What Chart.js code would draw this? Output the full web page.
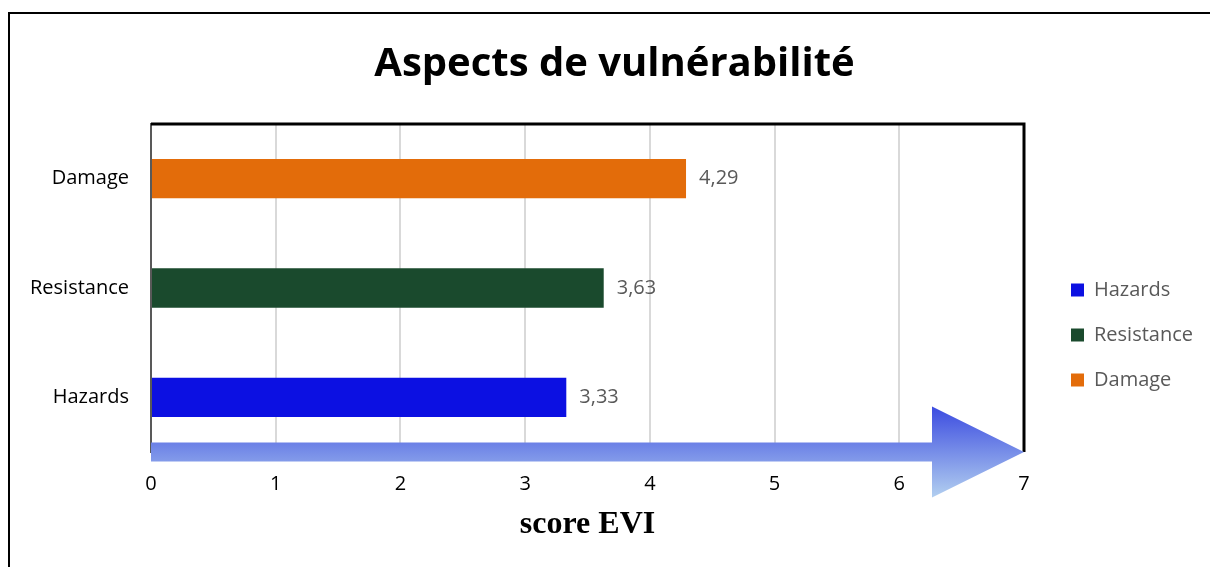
<!DOCTYPE html>
<html>
<head>
<meta charset="utf-8">
<script src="https://cdn.jsdelivr.net/npm/chart.js@4.4.1/dist/chart.umd.min.js"></script>
<style>
  html, body { margin: 0; padding: 0; background: #fff; }
  #wrap { width: 1210px; height: 567px; }
</style>
</head>
<body>
<div id="wrap"><canvas id="chart" width="1210" height="567"></canvas></div>
<script>
// valeurs
const categories = ["Hazards", "Resistance", "Damage"];
const scores = [3.33, 3.63, 4.29];
const barColors = ["#0c10e2", "#1a4a2d", "#e36c0a"];
const xMin = 0;
const xMax = 7;
const xStep = 1;

const FONT = "'Open Sans', 'Noto Sans', sans-serif";
const LABEL_SIZE = 20;
const fmt = (v) => v.toFixed(2).replace(".", ",");

// largeur du texte de legende, pour caler la legende a droite
const meas = document.createElement("canvas").getContext("2d");
meas.font = "normal " + LABEL_SIZE + "px " + FONT;
const textW = Math.max(...categories.map((c) => meas.measureText(c).width));
const legPad = 25, legBox = 13;
const legendW = legPad + legBox + LABEL_SIZE / 2 + textW + 10; // +10 ajoute par Chart.js
const padR = Math.max(0, 1210 - 1046 - legendW);
const padL = Math.max(0, Math.min(19 + padR, 129 - textW - 2));

// cadre, fleche et etiquettes de valeurs
const decor = {
  id: "decor",
  beforeDraw(chart) {
    const ctx = chart.ctx;
    ctx.save();
    ctx.strokeStyle = "#000";
    ctx.lineWidth = 2;
    ctx.beginPath();
    ctx.moveTo(9, 567);
    ctx.lineTo(9, 13);
    ctx.lineTo(1210, 13);
    ctx.stroke();
    ctx.restore();
  },
  afterDatasetsDraw(chart) {
    const { ctx, chartArea: a, scales: { x } } = chart;
    ctx.save();
    // bordure haut / droite
    ctx.strokeStyle = "#000";
    ctx.lineWidth = 3;
    ctx.beginPath();
    ctx.moveTo(a.left, a.top);
    ctx.lineTo(a.right, a.top);
    ctx.lineTo(a.right, a.bottom);
    ctx.stroke();

    // fleche
    const x0 = x.getPixelForValue(xMin);
    const tip = x.getPixelForValue(xMax);
    const base = tip - 92;
    const yc = a.bottom;
    const g = ctx.createLinearGradient(0, yc - 46, 0, yc + 46);
    g.addColorStop(0, "#3b4be0");
    g.addColorStop(1, "#b3d0f0");
    ctx.fillStyle = g;
    ctx.beginPath();
    ctx.moveTo(x0, yc - 9.5);
    ctx.lineTo(base, yc - 9.5);
    ctx.lineTo(base, yc - 45.5);
    ctx.lineTo(tip, yc);
    ctx.lineTo(base, yc + 45.5);
    ctx.lineTo(base, yc + 9.5);
    ctx.lineTo(x0, yc + 9.5);
    ctx.closePath();
    ctx.fill();

    // etiquettes
    ctx.fillStyle = "#595959";
    ctx.font = LABEL_SIZE + "px " + FONT;
    ctx.textBaseline = "middle";
    ctx.textAlign = "left";
    chart.getDatasetMeta(0).data.forEach((bar, i) => {
      ctx.fillText(fmt(scores[i]), bar.x + 13, bar.y);
    });
    ctx.restore();
  },
};

new Chart(document.getElementById("chart").getContext("2d"), {
  type: "bar",
  data: {
    labels: categories,
    datasets: [
      {
        label: "score EVI",
        data: scores,
        backgroundColor: barColors,
        barPercentage: 0.36,
        categoryPercentage: 1,
      },
    ],
  },
  plugins: [decor],
  options: {
    indexAxis: "y",
    responsive: false,
    animation: false,
    layout: { padding: { left: padL, right: padR, top: 0, bottom: 0 } },
    scales: {
      x: {
        type: "linear",
        min: xMin,
        max: xMax,
        ticks: { stepSize: xStep, color: "#000", font: { family: FONT, size: LABEL_SIZE }, padding: 20 },
        grid: { color: "#d9d9d9", lineWidth: 2, drawTicks: false },
        border: { display: false },
        title: {
          display: true,
          text: "score EVI",
          color: "#000",
          font: { family: "'Liberation Serif', 'DejaVu Serif', serif", size: 32, weight: "bold" },
          padding: { top: 0, bottom: 23 },
        },
        afterFit: (s) => { s.height = 115; },
      },
      y: {
        type: "category",
        reverse: true,
        ticks: { color: "#000", font: { family: FONT, size: LABEL_SIZE }, padding: 22 },
        grid: { display: false, drawTicks: false },
        border: { color: "#595959", width: 2 },
        afterFit: (s) => { s.width = 151 - padL; },
      },
      gap: {
        type: "linear",
        position: "right",
        ticks: { display: false },
        grid: { display: false, drawTicks: false },
        border: { display: false },
        afterFit: (s) => { s.width = 22; },
      },
    },
    plugins: {
      title: {
        display: true,
        text: "Aspects de vulnérabilité",
        color: "#000",
        font: { family: FONT, size: 40, weight: "bold" },
        padding: { top: 41, bottom: 35 },
      },
      legend: {
        position: "right",
        align: "start",
        fullSize: false,
        title: { display: true, text: "", font: { size: 10 }, padding: { top: 119, bottom: 0 } },
        labels: {
          boxWidth: legBox,
          boxHeight: legBox,
          padding: legPad,
          color: "#595959",
          font: { family: FONT, size: LABEL_SIZE },
          generateLabels: () =>
            categories.map((c, i) => ({
              text: c,
              fillStyle: barColors[i],
              strokeStyle: barColors[i],
              lineWidth: 0,
              fontColor: "#595959",
              index: i,
            })),
        },
        onClick: () => {},
      },
      tooltip: { enabled: false },
    },
  },
});
</script>
</body>
</html>
